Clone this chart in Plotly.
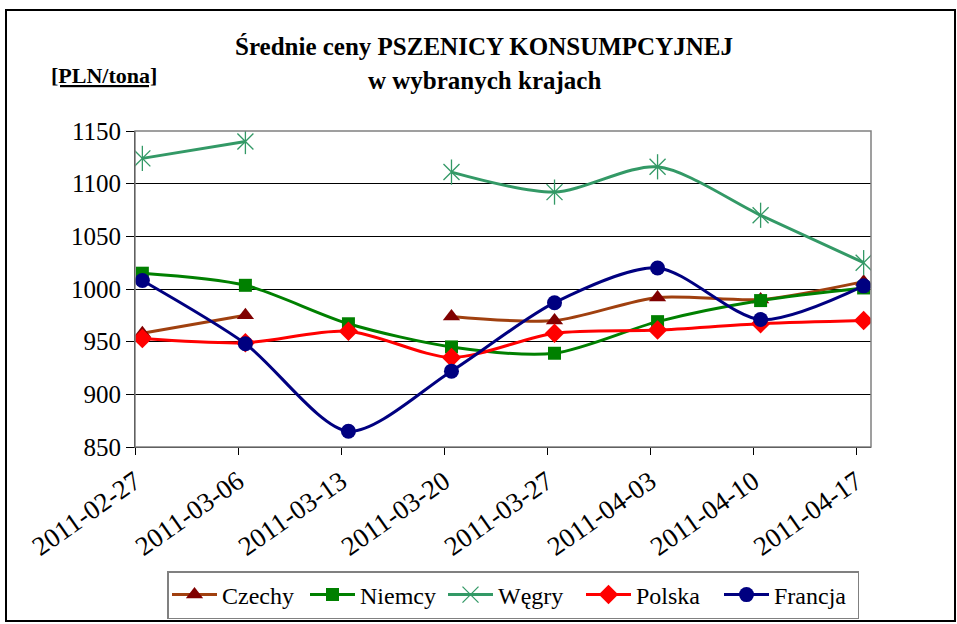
import plotly.graph_objects as go
import pandas as pd

# ---- data ----
dates = ["2011-02-27", "2011-03-06", "2011-03-13", "2011-03-20",
         "2011-03-27", "2011-04-03", "2011-04-10", "2011-04-17"]
czechy = [958, 975, None, 974, 970, 992, 990, 1007]
niemcy = [1015, 1003.5, 967, 945, 939, 969, 989, 1001]
wegry = [1124, 1140, None, 1111, 1092, 1116, 1070, 1025]
polska = [953, 949, 960, 935, 958, 961, 967, 970]
francja = [1008, 948, 865, 922, 987, 1020, 971, 1003]
series_names = ["Czechy", "Niemcy", "Węgry", "Polska", "Francja"]
title_line1 = "Średnie ceny PSZENICY KONSUMPCYJNEJ"
title_line2 = "w wybranych krajach"
unit_label = "[PLN/tona]"
y_ticks = [850, 900, 950, 1000, 1050, 1100, 1150]

# ---- layout geometry (pixels) ----
W, H = 957, 624
L, R, T, B = 135, 871, 131, 447


def px_x(p):
    return (p - L) / (R - L)


def px_y(p):
    return (B - p) / (B - T)


# points sit in the middle of the day on an Excel date axis
xpos = pd.to_datetime(dates) + pd.Timedelta(hours=12)

FONT = "Liberation Serif"
fig = go.Figure()

styles = [
    dict(line=dict(color="#A0400F", width=3, shape="spline", smoothing=0.8),
         marker=dict(symbol="triangle-up", size=15, color="#800000")),
    dict(line=dict(color="#008000", width=3, shape="spline", smoothing=0.8),
         marker=dict(symbol="square", size=13, color="#008000")),
    dict(line=dict(color="#339966", width=3, shape="spline", smoothing=0.8),
         marker=dict(symbol="x-thin-open", size=16, color="#339966",
                     line=dict(width=1.3, color="#339966"))),
    dict(line=dict(color="#FF0000", width=3, shape="spline", smoothing=0.8),
         marker=dict(symbol="diamond", size=15, color="#FF0000")),
    dict(line=dict(color="#000080", width=3, shape="spline", smoothing=0.8),
         marker=dict(symbol="circle", size=15, color="#000080")),
]
values = [czechy, niemcy, wegry, polska, francja]

for name, vals, st in zip(series_names, values, styles):
    fig.add_trace(go.Scatter(x=xpos, y=vals, name=name, mode="lines+markers",
                             connectgaps=False, legendgroup=name, **st))
    if name == "Węgry":
        fig.add_trace(go.Scatter(x=xpos, y=vals, mode="markers", showlegend=False,
                                 legendgroup=name, hoverinfo="skip",
                                 marker=dict(symbol="line-ns-open", size=18,
                                             color="#339966",
                                             line=dict(width=1.3, color="#339966"))))

fig.update_layout(
    width=W, height=H,
    margin=dict(l=L, r=W - R, t=T, b=H - B, autoexpand=False),
    paper_bgcolor="white", plot_bgcolor="white",
    font=dict(family=FONT, size=24, color="black"),
    showlegend=True,
    legend=dict(orientation="h", x=px_x(513), y=px_y(571), xanchor="center",
                yanchor="top", bordercolor="#808080", borderwidth=1.5,
                font=dict(family=FONT, size=24), itemwidth=45,
                entrywidth=78, entrywidthmode="pixels",
                tracegroupgap=0),
    xaxis=dict(type="date", range=["2011-02-27", "2011-04-18"],
               tickvals=dates, ticktext=dates, tickangle=-35,
               ticks="outside", ticklen=7, tickcolor="black",
               showline=True, linecolor="black", linewidth=1,
               showgrid=False, zeroline=False, automargin=False,
               tickfont=dict(family=FONT, size=27)),
    yaxis=dict(range=[850, 1150], tickvals=y_ticks,
               ticks="outside", ticklen=8, tickcolor="black",
               showline=True, linecolor="black", linewidth=1,
               showgrid=True, gridcolor="black", gridwidth=1,
               zeroline=False, automargin=False,
               tickfont=dict(family=FONT, size=25)),
    annotations=[
        dict(text="<b>" + title_line1 + "</b>", xref="paper", yref="paper",
             x=px_x(484), y=px_y(47), xanchor="center", yanchor="middle",
             showarrow=False, font=dict(family=FONT, size=25)),
        dict(text="<b>" + title_line2 + "</b>", xref="paper", yref="paper",
             x=px_x(484), y=px_y(80), xanchor="center", yanchor="middle",
             showarrow=False, font=dict(family=FONT, size=25)),
        dict(text="<u><b>" + unit_label + "</b></u>", xref="paper", yref="paper",
             x=px_x(104), y=px_y(76), xanchor="center", yanchor="middle",
             showarrow=False, font=dict(family=FONT, size=22)),
    ],
    shapes=[
        # plot area border (grey)
        dict(type="rect", xref="paper", yref="paper", x0=0, x1=1, y0=0, y1=1,
             line=dict(color="#808080", width=1.5), layer="above"),
        # outer chart frame
        dict(type="rect", xref="paper", yref="paper",
             x0=px_x(6), x1=px_x(955), y0=px_y(621), y1=px_y(10),
             line=dict(color="black", width=2)),
    ],
)

# the page body has a default 8px margin; remove it so the figure fills the window
fig.write_html("out.html",
               config={"displayModeBar": False},
               post_script="document.body.style.margin='0';"
                           "document.body.style.overflow='hidden';")
